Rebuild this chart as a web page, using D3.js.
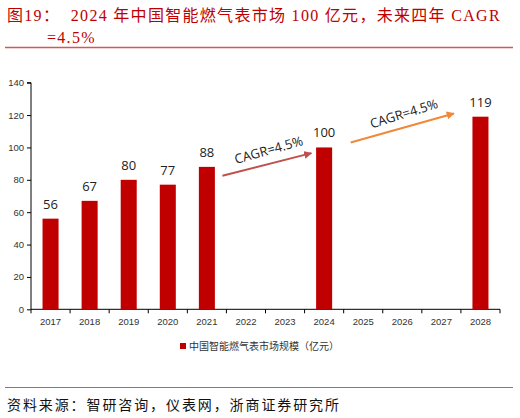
<!DOCTYPE html>
<html><head><meta charset="utf-8">
<script src="https://cdn.jsdelivr.net/npm/d3@7"></script>
<style>html,body{margin:0;padding:0;background:#fff;}svg{display:block;}</style>
</head><body>
<script>
const categories = ["2017","2018","2019","2020","2021","2022","2023","2024","2025","2026","2027","2028"];
const values = [56, 67, 80, 77, 88, null, null, 100, null, null, null, 119];
const yTicks = [0,20,40,60,80,100,120,140];
const seriesName = "中国智能燃气表市场规模（亿元）";
const titleLine1 = "图19：  2024 年中国智能燃气表市场 100 亿元，未来四年 CAGR";
const titleLine2 = "=4.5%";
const source = "资料来源：智研咨询，仪表网，浙商证券研究所";
const cagrLabels = ["CAGR=4.5%","CAGR=4.5%"];

const W=520,H=418;
const svg=d3.select("body").append("svg").attr("width",W).attr("height",H);
const serif='"Liberation Serif","Noto Sans CJK SC",serif';
const sans='"Liberation Sans","Noto Sans CJK SC",sans-serif';

// title
svg.append("text").attr("x",7).attr("y",21).attr("font-family",serif).attr("font-size",16).attr("letter-spacing",1.3).attr("fill","#c00000").attr("xml:space","preserve").text(titleLine1);
svg.append("text").attr("x",47).attr("y",43).attr("font-family",serif).attr("font-size",16).attr("letter-spacing",1.3).attr("fill","#c00000").text(titleLine2);
svg.append("line").attr("x1",5).attr("x2",513).attr("y1",47.5).attr("y2",47.5).attr("stroke","#d05a5a").attr("stroke-width",1.5);

const x=d3.scaleBand().domain(categories).range([31,500]).padding(0);
const y=d3.scaleLinear().domain([0,140]).range([309.3,82.7]);
const bw=x.bandwidth()*0.41;

// y axis
const ya=svg.append("g").attr("transform","translate(31,0)").call(d3.axisLeft(y).tickValues(yTicks).tickSize(4).tickPadding(3));
ya.select(".domain").attr("stroke","#000").attr("d",`M-4,${y(140)}H0V${y(0)}`);
ya.selectAll(".tick line").attr("stroke","#000");
ya.selectAll(".tick text").attr("font-family",sans).attr("font-size",9.5).attr("fill","#333");

// x axis
const xa=svg.append("g").attr("transform",`translate(0,${y(0)})`);
xa.append("line").attr("x1",31).attr("x2",500).attr("stroke","#000");
const bounds=categories.map(c=>x(c)).concat([x(categories[categories.length-1])+x.bandwidth()]);
xa.selectAll(".tk").data(bounds).join("line").attr("x1",d=>d).attr("x2",d=>d).attr("y1",0).attr("y2",4).attr("stroke","#000");
xa.selectAll(".lb").data(categories).join("text").attr("x",d=>x(d)+x.bandwidth()/2).attr("y",16)
  .attr("text-anchor","middle").attr("font-family",sans).attr("font-size",9.5).attr("fill","#333").text(d=>d);

// bars
const data=categories.map((c,i)=>({c,v:values[i]})).filter(d=>d.v!=null);
svg.selectAll(".bar").data(data).join("rect").attr("x",d=>x(d.c)+(x.bandwidth()-bw)/2).attr("width",bw)
  .attr("y",d=>y(d.v)).attr("height",d=>y(0)-y(d.v)).attr("fill","#c00000");
svg.selectAll(".vl").data(data).join("text").attr("x",d=>x(d.c)+x.bandwidth()/2).attr("y",d=>y(d.v)-10)
  .attr("text-anchor","middle").attr("font-family",'"Open Sans","Liberation Sans",sans-serif').attr("font-size",13).attr("fill","#222").text(d=>d.v);

// arrows
const defs=svg.append("defs");
function marker(id,col){defs.append("marker").attr("id",id).attr("viewBox","0 0 10 10").attr("refX",9).attr("refY",5)
  .attr("markerWidth",4).attr("markerHeight",4).attr("orient","auto").append("path").attr("d","M0,0L10,5L0,10z").attr("fill",col);}
marker("a1","#c0504d");marker("a2","#f0883a");
const a1={x1:x("2022")-4,y1:y(82.5),x2:x("2024")+x.bandwidth()*0.2-1,y2:y(96.5)};
const a2={x1:x("2025")+7,y1:y(103),x2:x("2028")-7,y2:y(121)};
[[a1,"#c0504d","a1",cagrLabels[0]],[a2,"#f0883a","a2",cagrLabels[1]]].forEach(([a,col,id,lbl])=>{
  svg.append("line").attr("x1",a.x1).attr("y1",a.y1).attr("x2",a.x2).attr("y2",a.y2).attr("stroke",col).attr("stroke-width",2).attr("marker-end",`url(#${id})`);
  const ang=Math.atan2(a.y2-a.y1,a.x2-a.x1)*180/Math.PI-1.5;
  const mx=(a.x1+a.x2)/2+3, my=(a.y1+a.y2)/2-10;
  svg.append("text").attr("transform",`translate(${mx},${my}) rotate(${ang})`).attr("text-anchor","middle")
    .attr("font-family",'"Open Sans","Liberation Sans",sans-serif').attr("font-size",13).attr("fill","#222").text(lbl);
});

// legend
svg.append("rect").attr("x",180).attr("y",343).attr("width",6).attr("height",6).attr("fill","#c00000");
svg.append("text").attr("x",189).attr("y",349.5).attr("font-family",sans).attr("font-size",10).attr("fill","#333").text(seriesName);

// source
svg.append("line").attr("x1",5).attr("x2",513).attr("y1",387.5).attr("y2",387.5).attr("stroke","#d05a5a").attr("stroke-width",1);
svg.append("text").attr("x",7).attr("y",410).attr("font-family",serif).attr("font-size",14).attr("letter-spacing",1.9).attr("fill","#111").text(source);
</script>
</body></html>
